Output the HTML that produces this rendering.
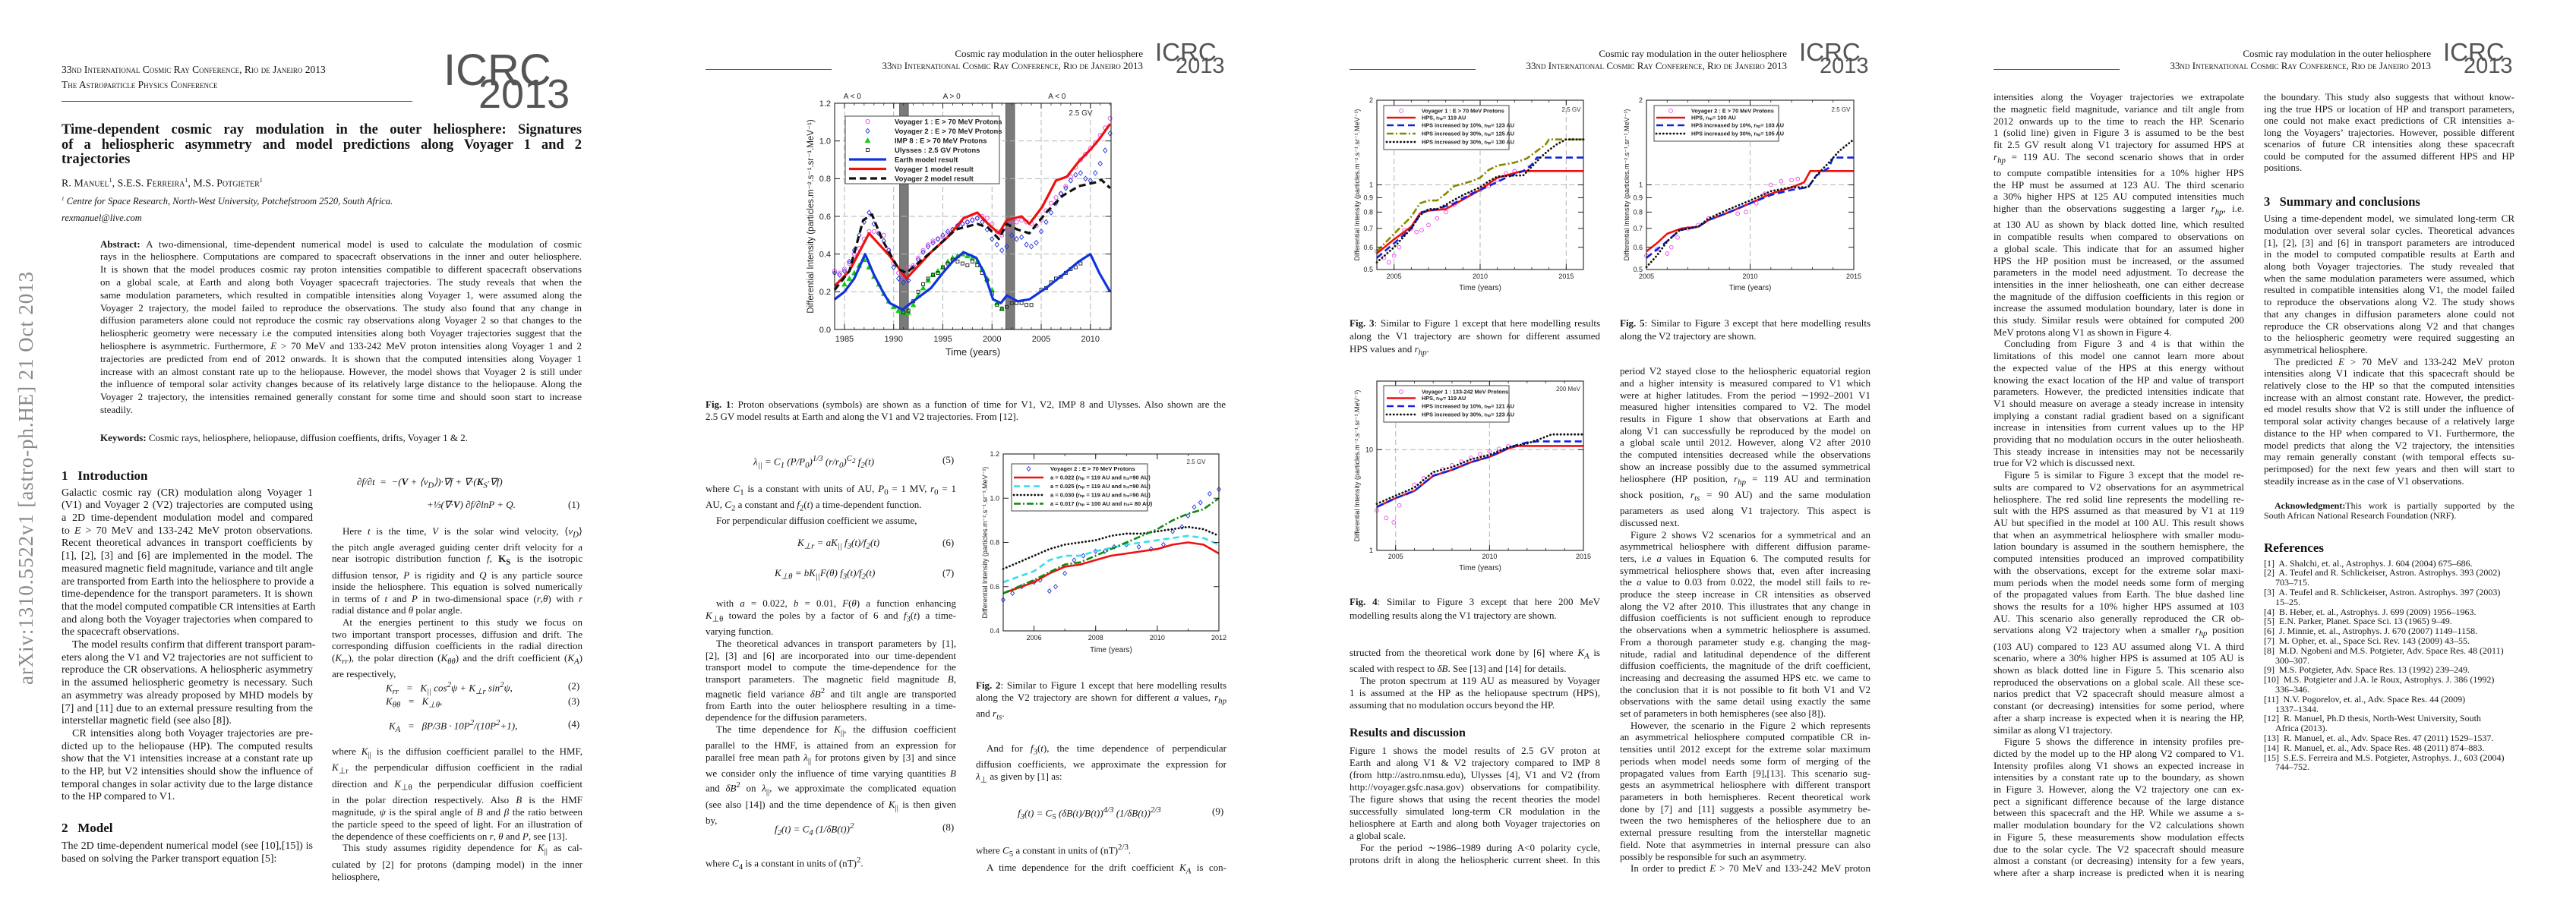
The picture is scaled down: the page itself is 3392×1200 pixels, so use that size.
<!DOCTYPE html>
<html><head><meta charset="utf-8">
<style>
body{margin:0;width:3392px;height:1200px;background:#fff;position:relative;overflow:hidden;}
.p{position:absolute;font-family:"Liberation Serif",serif;color:#151515;white-space:nowrap;}
.p span{display:block;text-align:justify;text-align-last:justify;}
.p span.e{text-align-last:left;}
.p span.i{text-indent:14px;}
.sc{font-variant:small-caps;}
.h{position:absolute;font-family:"Liberation Serif",serif;font-weight:bold;color:#111;white-space:nowrap;}
.eq{position:absolute;font-family:"Liberation Serif",serif;font-style:italic;color:#151515;white-space:nowrap;font-size:13px;}
.eqn{position:absolute;font-family:"Liberation Serif",serif;color:#151515;font-size:13px;}
.rule{position:absolute;height:1px;background:#555;}
</style></head>
<body>

<!-- ================= PAGE 1 ================= -->
<div class="p sc" style="left:81px;top:84px;font-size:13.5px;line-height:16px;">33nd International Cosmic Ray Conference, Rio de Janeiro 2013</div>
<div class="p sc" style="left:81px;top:104px;font-size:13.5px;line-height:16px;">The Astroparticle Physics Conference</div>
<div class="rule" style="left:81px;top:133px;width:462px;"></div>

<div class="p" style="left:81px;top:162px;width:685px;font-size:18.5px;line-height:19.5px;font-weight:bold;">
<span>Time-dependent cosmic ray modulation in the outer heliosphere: Signatures</span>
<span>of a heliospheric asymmetry and model predictions along Voyager 1 and 2</span>
<span class="e">trajectories</span></div>
<div class="p sc" style="left:81px;top:229px;font-size:14px;line-height:18px;">R. Manuel<sup style="font-size:8px">1</sup>, S.E.S. Ferreira<sup style="font-size:8px">1</sup>, M.S. Potgieter<sup style="font-size:8px">1</sup></div>
<div class="p" style="left:81px;top:254px;font-size:12.5px;line-height:16px;font-style:italic;"><sup style="font-size:7px">1</sup> Centre for Space Research, North-West University, Potchefstroom 2520, South Africa.</div>
<div class="p" style="left:81px;top:279px;font-size:12.5px;line-height:16px;font-style:italic;">rexmanuel@live.com</div>

<div class="p" style="left:132px;top:313.6px;width:634px;font-size:13px;line-height:16.8px;">
<span><b>Abstract:</b> A two-dimensional, time-dependent numerical model is used to calculate the modulation of cosmic</span>
<span>rays in the heliosphere. Computations are compared to spacecraft observations in the inner and outer heliosphere.</span>
<span>It is shown that the model produces cosmic ray proton intensities compatible to different spacecraft observations</span>
<span>on a global scale, at Earth and along both Voyager spacecraft trajectories. The study reveals that when the</span>
<span>same modulation parameters, which resulted in compatible intensities along Voyager 1, were assumed along the</span>
<span>Voyager 2 trajectory, the model failed to reproduce the observations. The study also found that any change in</span>
<span>diffusion parameters alone could not reproduce the cosmic ray observations along Voyager 2 so that changes to the</span>
<span>heliospheric geometry were necessary i.e the computed intensities along both Voyager trajectories suggest that the</span>
<span>heliosphere is asymmetric. Furthermore, <i>E</i> &gt; 70 MeV and 133-242 MeV proton intensities along Voyager 1 and 2</span>
<span>trajectories are predicted from end of 2012 onwards. It is shown that the computed intensities along Voyager 1</span>
<span>increase with an almost constant rate up to the heliopause. However, the model shows that Voyager 2 is still under</span>
<span>the influence of temporal solar activity changes because of its relatively large distance to the heliopause. Along the</span>
<span>Voyager 2 trajectory, the intensities remained generally constant for some time and should soon start to increase</span>
<span class="e">steadily.</span></div>
<div class="p" style="left:132px;top:568.6px;font-size:13px;line-height:16.8px;"><b>Keywords:</b> Cosmic rays, heliosphere, heliopause, diffusion coeffients, drifts, Voyager 1 &amp; 2.</div>

<div class="h" style="left:81px;top:617px;font-size:17px;line-height:20px;">1&nbsp;&nbsp;&nbsp;Introduction</div>
<div class="p" style="left:81px;top:641.6px;width:331px;font-size:14px;line-height:16.7px;">
<span>Galactic cosmic ray (CR) modulation along Voyager 1</span>
<span>(V1) and Voyager 2 (V2) trajectories are computed using</span>
<span>a 2D time-dependent modulation model and compared</span>
<span>to <i>E</i> &gt; 70 MeV and 133-242 MeV proton observations.</span>
<span>Recent theoretical advances in transport coefficients by</span>
<span>[1], [2], [3] and [6] are implemented in the model. The</span>
<span>measured magnetic field magnitude, variance and tilt angle</span>
<span>are transported from Earth into the heliosphere to provide a</span>
<span>time-dependence for the transport parameters. It is shown</span>
<span>that the model computed compatible CR intensities at Earth</span>
<span>and along both the Voyager trajectories when compared to</span>
<span class="e">the spacecraft observations.</span>
<span class="i">The model results confirm that different transport param-</span>
<span>eters along the V1 and V2 trajectories are not sufficient to</span>
<span>reproduce the CR observations. A heliospheric asymmetry</span>
<span>in the assumed heliospheric geometry is necessary. Such</span>
<span>an asymmetry was already proposed by MHD models by</span>
<span>[7] and [11] due to an external pressure resulting from the</span>
<span class="e">interstellar magnetic field (see also [8]).</span>
<span class="i">CR intensities along both Voyager trajectories are pre-</span>
<span>dicted up to the heliopause (HP). The computed results</span>
<span>show that the V1 intensities increase at a constant rate up</span>
<span>to the HP, but V2 intensities should show the influence of</span>
<span>temporal changes in solar activity due to the large distance</span>
<span class="e">to the HP compared to V1.</span></div>
<div class="h" style="left:81px;top:1081px;font-size:17px;line-height:20px;">2&nbsp;&nbsp;&nbsp;Model</div>
<div class="p" style="left:81px;top:1105.5px;width:331px;font-size:14px;line-height:17px;">
<span>The 2D time-dependent numerical model (see [10],[15]) is</span>
<span class="e">based on solving the Parker transport equation [5]:</span></div>

<div class="eq" style="left:470px;top:627px;">∂f/∂t &nbsp;= &nbsp;−(<b>V</b> + ⟨v<sub>D</sub>⟩)·∇f + ∇·(<b>K</b><sub>S</sub>·∇f)</div>
<div class="eq" style="left:562px;top:657px;">+⅓(∇·<b>V</b>) ∂f/∂lnP + Q.</div>
<div class="eqn" style="left:748px;top:657px;">(1)</div>
<div class="p" style="left:437px;top:691.7px;width:330px;font-size:13px;line-height:15.6px;">
<span class="i">Here <i>t</i> is the time, <i>V</i> is the solar wind velocity, ⟨<i>v<sub>D</sub></i>⟩</span>
<span>the pitch angle averaged guiding center drift velocity for a</span>
<span>near isotropic distribution function <i>f</i>, <b>K<sub>S</sub></b> is the isotropic</span>
<span>diffusion tensor, <i>P</i> is rigidity and <i>Q</i> is any particle source</span>
<span>inside the heliosphere. This equation is solved numerically</span>
<span>in terms of <i>t</i> and <i>P</i> in two-dimensional space (<i>r</i>,<i>θ</i>) with <i>r</i></span>
<span class="e">radial distance and <i>θ</i> polar angle.</span>
<span class="i">At the energies pertinent to this study we focus on</span>
<span>two important transport processes, diffusion and drift. The</span>
<span>corresponding diffusion coefficients in the radial direction</span>
<span>(<i>K<sub>rr</sub></i>), the polar direction (<i>K<sub>θθ</sub></i>) and the drift coefficient (<i>K<sub>A</sub></i>)</span>
<span class="e">are respectively,</span></div>
<div class="eq" style="left:508px;top:896px;">K<sub>rr</sub> &nbsp;&nbsp;= &nbsp;&nbsp;K<sub>||</sub> cos<sup>2</sup>ψ + K<sub>⊥r</sub> sin<sup>2</sup>ψ,</div>
<div class="eqn" style="left:748px;top:896px;">(2)</div>
<div class="eq" style="left:508px;top:916px;">K<sub>θθ</sub> &nbsp;&nbsp;= &nbsp;&nbsp;K<sub>⊥θ</sub>,</div>
<div class="eqn" style="left:748px;top:916px;">(3)</div>
<div class="eq" style="left:512px;top:946px;">K<sub>A</sub> &nbsp;&nbsp;= &nbsp;&nbsp;βP/3B · 10P<sup>2</sup>/(10P<sup>2</sup>+1),</div>
<div class="eqn" style="left:748px;top:946px;">(4)</div>
<div class="p" style="left:437px;top:982px;width:330px;font-size:13px;line-height:15.8px;">
<span>where <i>K</i><sub>||</sub> is the diffusion coefficient parallel to the HMF,</span>
<span><i>K</i><sub>⊥r</sub> the perpendicular diffusion coefficient in the radial</span>
<span>direction and <i>K</i><sub>⊥θ</sub> the perpendicular diffusion coefficient</span>
<span>in the polar direction respectively. Also <i>B</i> is the HMF</span>
<span>magnitude, <i>ψ</i> is the spiral angle of <i>B</i> and <i>β</i> the ratio between</span>
<span>the particle speed to the speed of light. For an illustration of</span>
<span class="e">the dependence of these coefficients on <i>r</i>, <i>θ</i> and <i>P</i>, see [13].</span>
<span class="i">This study assumes rigidity dependence for <i>K</i><sub>||</sub> as cal-</span>
<span>culated by [2] for protons (damping model) in the inner</span>
<span class="e">heliosphere,</span></div>

<!-- ================= PAGE 2 ================= -->
<div class="p" style="left:1102px;top:63px;width:403px;text-align:right;font-size:13px;line-height:16px;">Cosmic ray modulation in the outer heliosphere</div>
<div class="p sc" style="left:1102px;top:79px;width:403px;text-align:right;font-size:13px;line-height:16px;">33nd International Cosmic Ray Conference, Rio de Janeiro 2013</div>
<div class="rule" style="left:929px;top:91px;width:166px;"></div>

<div class="p" style="left:929px;top:525px;width:685px;font-size:13px;line-height:16px;">
<span><b>Fig. 1</b>: Proton observations (symbols) are shown as a function of time for V1, V2, IMP 8 and Ulysses. Also shown are the</span>
<span class="e">2.5 GV model results at Earth and along the V1 and V2 trajectories. From [12].</span></div>

<div class="eq" style="left:992px;top:598px;">λ<sub>||</sub> = C<sub>1</sub> (P/P<sub>0</sub>)<sup>1/3</sup> (r/r<sub>0</sub>)<sup>C<sub>2</sub></sup> f<sub>2</sub>(t)</div>
<div class="eqn" style="left:1241px;top:598px;">(5)</div>
<div class="p" style="left:929px;top:636.2px;width:330px;font-size:13px;line-height:15.5px;">
<span>where <i>C</i><sub>1</sub> is a constant with units of AU, <i>P</i><sub>0</sub> = 1 MV, <i>r</i><sub>0</sub> = 1</span>
<span class="e">AU, <i>C</i><sub>2</sub> a constant and <i>f</i><sub>2</sub>(<i>t</i>) a time-dependent function.</span>
<span class="i e">For perpendicular diffusion coefficient we assume,</span></div>
<div class="eq" style="left:1050px;top:707px;">K<sub>⊥r</sub> = aK<sub>||</sub> f<sub>3</sub>(t)/f<sub>2</sub>(t)</div>
<div class="eqn" style="left:1241px;top:707px;">(6)</div>
<div class="eq" style="left:1020px;top:747px;">K<sub>⊥θ</sub> = bK<sub>||</sub>F(θ) f<sub>3</sub>(t)/f<sub>2</sub>(t)</div>
<div class="eqn" style="left:1241px;top:747px;">(7)</div>
<div class="p" style="left:929px;top:787.2px;width:330px;font-size:13px;line-height:15.69px;">
<span class="i">with <i>a</i> = 0.022, <i>b</i> = 0.01, <i>F</i>(<i>θ</i>) a function enhancing</span>
<span><i>K</i><sub>⊥θ</sub> toward the poles by a factor of 6 and <i>f</i><sub>3</sub>(<i>t</i>) a time-</span>
<span class="e">varying function.</span>
<span class="i">The theoretical advances in transport parameters by [1],</span>
<span>[2], [3] and [6] are incorporated into our time-dependent</span>
<span>transport model to compute the time-dependence for the</span>
<span>transport parameters. The magnetic field magnitude <i>B</i>,</span>
<span>magnetic field variance <i>δB</i><sup>2</sup> and tilt angle are transported</span>
<span>from Earth into the outer heliosphere resulting in a time-</span>
<span class="e">dependence for the diffusion parameters.</span>
<span class="i">The time dependence for <i>K</i><sub>||</sub>, the diffusion coefficient</span>
<span>parallel to the HMF, is attained from an expression for</span>
<span>parallel free mean path <i>λ</i><sub>||</sub> for protons given by [3] and since</span>
<span>we consider only the influence of time varying quantities <i>B</i></span>
<span>and <i>δB</i><sup>2</sup> on <i>λ</i><sub>||</sub>, we approximate the complicated equation</span>
<span>(see also [14]) and the time dependence of <i>K</i><sub>||</sub> is then given</span>
<span class="e">by,</span></div>
<div class="eq" style="left:1020px;top:1082px;">f<sub>2</sub>(t) = C<sub>4</sub> (1/δB(t))<sup>2</sup></div>
<div class="eqn" style="left:1241px;top:1082px;">(8)</div>
<div class="p" style="left:929px;top:1125px;font-size:13px;line-height:16px;">where <i>C</i><sub>4</sub> is a constant in units of (nT)<sup>2</sup>.</div>

<div class="p" style="left:1285px;top:894.7px;width:330px;font-size:13px;line-height:16.5px;">
<span><b>Fig. 2</b>: Similar to Figure 1 except that here modelling results</span>
<span>along the V2 trajectory are shown for different <i>a</i> values, <i>r<sub>hp</sub></i></span>
<span class="e">and <i>r<sub>ts</sub></i>.</span></div>
<div class="p" style="left:1285px;top:978px;width:330px;font-size:13px;line-height:16.3px;">
<span class="i">And for <i>f</i><sub>3</sub>(<i>t</i>), the time dependence of perpendicular</span>
<span>diffusion coefficients, we approximate the expression for</span>
<span class="e"><i>λ</i><sub>⊥</sub> as given by [1] as:</span></div>
<div class="eq" style="left:1340px;top:1061px;">f<sub>3</sub>(t) = C<sub>5</sub> (δB(t)/B(t))<sup>4/3</sup> (1/δB(t))<sup>2/3</sup></div>
<div class="eqn" style="left:1596px;top:1061px;">(9)</div>
<div class="p" style="left:1285px;top:1108px;width:330px;font-size:13px;line-height:17px;">
<span class="e">where <i>C</i><sub>5</sub> a constant in units of (nT)<sup>2/3</sup>.</span>
<span class="i">A time dependence for the drift coefficient <i>K<sub>A</sub></i> is con-</span></div>

<!-- ================= PAGE 3 ================= -->
<div class="p" style="left:1950px;top:63px;width:403px;text-align:right;font-size:13px;line-height:16px;">Cosmic ray modulation in the outer heliosphere</div>
<div class="p sc" style="left:1950px;top:79px;width:403px;text-align:right;font-size:13px;line-height:16px;">33nd International Cosmic Ray Conference, Rio de Janeiro 2013</div>
<div class="rule" style="left:1777px;top:91px;width:166px;"></div>

<div class="p" style="left:1777px;top:416.5px;width:330px;font-size:13px;line-height:17px;">
<span><b>Fig. 3</b>: Similar to Figure 1 except that here modelling results</span>
<span>along the V1 trajectory are shown for different assumed</span>
<span class="e">HPS values and <i>r<sub>hp</sub></i>.</span></div>
<div class="p" style="left:2133px;top:416.5px;width:330px;font-size:13px;line-height:17px;">
<span><b>Fig. 5</b>: Similar to Figure 3 except that here modelling results</span>
<span class="e">along the V2 trajectory are shown.</span></div>
<div class="p" style="left:1777px;top:784px;width:330px;font-size:13px;line-height:18px;">
<span><b>Fig. 4</b>: Similar to Figure 3 except that here 200 MeV</span>
<span class="e">modelling results along the V1 trajectory are shown.</span></div>
<div class="p" style="left:1777px;top:852px;width:330px;font-size:13px;line-height:15.75px;">
<span>structed from the theoretical work done by [6] where <i>K<sub>A</sub></i> is</span>
<span class="e">scaled with respect to <i>δB</i>. See [13] and [14] for details.</span>
<span class="i">The proton spectrum at 119 AU as measured by Voyager</span>
<span>1 is assumed at the HP as the heliopause spectrum (HPS),</span>
<span class="e">assuming that no modulation occurs beyond the HP.</span></div>
<div class="h" style="left:1777px;top:956px;font-size:16px;line-height:20px;">Results and discussion</div>
<div class="p" style="left:1777px;top:981px;width:330px;font-size:13px;line-height:16px;">
<span>Figure 1 shows the model results of 2.5 GV proton at</span>
<span>Earth and along V1 &amp; V2 trajectory compared to IMP 8</span>
<span>(from http://astro.nmsu.edu), Ulysses [4], V1 and V2 (from</span>
<span>http://voyager.gsfc.nasa.gov) observations for compatibility.</span>
<span>The figure shows that using the recent theories the model</span>
<span>successfully simulated long-term CR modulation in the</span>
<span>heliosphere at Earth and along both Voyager trajectories on</span>
<span class="e">a global scale.</span>
<span class="i">For the period ∼1986–1989 during A&lt;0 polarity cycle,</span>
<span>protons drift in along the heliospheric current sheet. In this</span></div>

<div class="p" style="left:2133px;top:481.2px;width:330px;font-size:13px;line-height:15.7px;">
<span>period V2 stayed close to the heliospheric equatorial region</span>
<span>and a higher intensity is measured compared to V1 which</span>
<span>were at higher latitudes. From the period ∼1992–2001 V1</span>
<span>measured higher intensities compared to V2. The model</span>
<span>results in Figure 1 show that observations at Earth and</span>
<span>along V1 can successfully be reproduced by the model on</span>
<span>a global scale until 2012. However, along V2 after 2010</span>
<span>the computed intensities decreased while the observations</span>
<span>show an increase possibly due to the assumed symmetrical</span>
<span>heliosphere (HP position, <i>r<sub>hp</sub></i> = 119 AU and termination</span>
<span>shock position, <i>r<sub>ts</sub></i> = 90 AU) and the same modulation</span>
<span>parameters as used along V1 trajectory. This aspect is</span>
<span class="e">discussed next.</span>
<span class="i">Figure 2 shows V2 scenarios for a symmetrical and an</span>
<span>asymmetrical heliosphere with different diffusion parame-</span>
<span>ters, i.e <i>a</i> values in Equation 6. The computed results for</span>
<span>symmetrical heliosphere shows that, even after increasing</span>
<span>the <i>a</i> value to 0.03 from 0.022, the model still fails to re-</span>
<span>produce the steep increase in CR intensities as observed</span>
<span>along the V2 after 2010. This illustrates that any change in</span>
<span>diffusion coefficients is not sufficient enough to reproduce</span>
<span>the observations when a symmetric heliosphere is assumed.</span>
<span>From a thorough parameter study e.g. changing the mag-</span>
<span>nitude, radial and latitudinal dependence of the different</span>
<span>diffusion coefficients, the magnitude of the drift coefficient,</span>
<span>increasing and decreasing the assumed HPS etc. we came to</span>
<span>the conclusion that it is not possible to fit both V1 and V2</span>
<span>observations with the same detail using exactly the same</span>
<span class="e">set of parameters in both hemispheres (see also [8]).</span>
<span class="i">However, the scenario in the Figure 2 which represents</span>
<span>an asymmetrical heliosphere computed compatible CR in-</span>
<span>tensities until 2012 except for the extreme solar maximum</span>
<span>periods when model needs some form of merging of the</span>
<span>propagated values from Earth [9],[13]. This scenario sug-</span>
<span>gests an asymmetrical heliosphere with different transport</span>
<span>parameters in both hemispheres. Recent theoretical work</span>
<span>done by [7] and [11] suggests a possible asymmetry be-</span>
<span>tween the two hemispheres of the heliosphere due to an</span>
<span>external pressure resulting from the interstellar magnetic</span>
<span>field. Note that asymmetries in internal pressure can also</span>
<span class="e">possibly be responsible for such an asymmetry.</span>
<span class="i">In order to predict <i>E</i> &gt; 70 MeV and 133-242 MeV proton</span></div>

<!-- ================= PAGE 4 ================= -->
<div class="p" style="left:2798px;top:63px;width:403px;text-align:right;font-size:13px;line-height:16px;">Cosmic ray modulation in the outer heliosphere</div>
<div class="p sc" style="left:2798px;top:79px;width:403px;text-align:right;font-size:13px;line-height:16px;">33nd International Cosmic Ray Conference, Rio de Janeiro 2013</div>
<div class="rule" style="left:2625px;top:91px;width:166px;"></div>

<div class="p" style="left:2625px;top:120.2px;width:330px;font-size:13px;line-height:15.7px;">
<span>intensities along the Voyager trajectories we extrapolate</span>
<span>the magnetic field magnitude, variance and tilt angle from</span>
<span>2012 onwards up to the time to reach the HP. Scenario</span>
<span>1 (solid line) given in Figure 3 is assumed to be the best</span>
<span>fit 2.5 GV result along V1 trajectory for assumed HPS at</span>
<span><i>r<sub>hp</sub></i> = 119 AU. The second scenario shows that in order</span>
<span>to compute compatible intensities for a 10% higher HPS</span>
<span>the HP must be assumed at 123 AU. The third scenario</span>
<span>a 30% higher HPS at 125 AU computed intensities much</span>
<span>higher than the observations suggesting a larger <i>r<sub>hp</sub></i>, i.e.</span>
<span>at 130 AU as shown by black dotted line, which resulted</span>
<span>in compatible results when compared to observations on</span>
<span>a global scale. This indicate that for an assumed higher</span>
<span>HPS the HP position must be increased, or the assumed</span>
<span>parameters in the model need adjustment. To decrease the</span>
<span>intensities in the inner heliosheath, one can either decrease</span>
<span>the magnitude of the diffusion coefficients in this region or</span>
<span>increase the assumed modulation boundary, later is done in</span>
<span>this study. Similar resuls were obtained for computed 200</span>
<span class="e">MeV protons along V1 as shown in Figure 4.</span>
<span class="i">Concluding from Figure 3 and 4 is that within the</span>
<span>limitations of this model one cannot learn more about</span>
<span>the expected value of the HPS at this energy without</span>
<span>knowing the exact location of the HP and value of transport</span>
<span>parameters. However, the predicted intensities indicate that</span>
<span>V1 should measure on average a steady increase in intensity</span>
<span>implying a constant radial gradient based on a significant</span>
<span>increase in intensities from current values up to the HP</span>
<span>providing that no modulation occurs in the outer heliosheath.</span>
<span>This steady increase in intensities may not be necessarily</span>
<span class="e">true for V2 which is discussed next.</span>
<span class="i">Figure 5 is similar to Figure 3 except that the model re-</span>
<span>sults are compared to V2 observations for an asymmetrical</span>
<span>heliosphere. The red solid line represents the modelling re-</span>
<span>sult with the HPS assumed as that measured by V1 at 119</span>
<span>AU but specified in the model at 100 AU. This result shows</span>
<span>that when an asymmetrical heliosphere with smaller modu-</span>
<span>lation boundary is assumed in the southern hemisphere, the</span>
<span>computed intensities produced an improved compatibility</span>
<span>with the observations, except for the extreme solar maxi-</span>
<span>mum periods when the model needs some form of merging</span>
<span>of the propagated values from Earth. The blue dashed line</span>
<span>shows the results for a 10% higher HPS assumed at 103</span>
<span>AU. This scenario also generally reproduced the CR ob-</span>
<span>servations along V2 trajectory when a smaller <i>r<sub>hp</sub></i> position</span>
<span>(103 AU) compared to 123 AU assumed along V1. A third</span>
<span>scenario, where a 30% higher HPS is assumed at 105 AU is</span>
<span>shown as black dotted line in Figure 5. This scenario also</span>
<span>reproduced the observations on a global scale. All these sce-</span>
<span>narios predict that V2 spacecraft should measure almost a</span>
<span>constant (or decreasing) intensities for some period, where</span>
<span>after a sharp increase is expected when it is nearing the HP,</span>
<span class="e">similar as along V1 trajectory.</span>
<span class="i">Figure 5 shows the difference in intensity profiles pre-</span>
<span>dicted by the model up to the HP along V2 compared to V1.</span>
<span>Intensity profiles along V1 shows an expected increase in</span>
<span>intensities by a constant rate up to the boundary, as shown</span>
<span>in Figure 3. However, along the V2 trajectory one can ex-</span>
<span>pect a significant difference because of the large distance</span>
<span>between this spacecraft and the HP. While we assume a s-</span>
<span>maller modulation boundary for the V2 calculations shown</span>
<span>in Figure 5, these measurements show modulation effects</span>
<span>due to the solar cycle. The V2 spacecraft should measure</span>
<span>almost a constant (or decreasing) intensity for a few years,</span>
<span>where after a sharp increase is predicted when it is nearing</span></div>

<div class="p" style="left:2981px;top:120.2px;width:330px;font-size:13px;line-height:15.5px;">
<span>the boundary. This study also suggests that without know-</span>
<span>ing the true HPS or location of HP and transport parameters,</span>
<span>one could not make exact predictions of CR intensities a-</span>
<span>long the Voyagers’ trajectories. However, possible different</span>
<span>scenarios of future CR intensities along these spacecraft</span>
<span>could be computed for the assumed different HPS and HP</span>
<span class="e">positions.</span></div>
<div class="h" style="left:2981px;top:256px;font-size:16.5px;line-height:20px;">3&nbsp;&nbsp;&nbsp;Summary and conclusions</div>
<div class="p" style="left:2981px;top:280.2px;width:330px;font-size:13px;line-height:15.7px;">
<span>Using a time-dependent model, we simulated long-term CR</span>
<span>modulation over several solar cycles. Theoretical advances</span>
<span>[1], [2], [3] and [6] in transport parameters are introduced</span>
<span>in the model to computed compatible results at Earth and</span>
<span>along both Voyager trajectories. The study revealed that</span>
<span>when the same modulation parameters were assumed, which</span>
<span>resulted in compatible intensities along V1, the model failed</span>
<span>to reproduce the observations along V2. The study shows</span>
<span>that any changes in diffusion parameters alone could not</span>
<span>reproduce the CR observations along V2 and that changes</span>
<span>to the heliospheric geometry were required suggesting an</span>
<span class="e">asymmetrical heliosphere.</span>
<span class="i">The predicted <i>E</i> &gt; 70 MeV and 133-242 MeV proton</span>
<span>intensities along V1 indicate that this spacecraft should be</span>
<span>relatively close to the HP so that the computed intensities</span>
<span>increase with an almost constant rate. However, the predict-</span>
<span>ed model results show that V2 is still under the influence of</span>
<span>temporal solar activity changes because of a relatively large</span>
<span>distance to the HP when compared to V1. Furthermore, the</span>
<span>model predicts that along the V2 trajectory, the intensities</span>
<span>may remain generally constant (with temporal effects su-</span>
<span>perimposed) for the next few years and then will start to</span>
<span class="e">steadily increase as in the case of V1 observations.</span></div>
<div class="p" style="left:2981px;top:659.5px;width:330px;font-size:12px;line-height:13px;">
<span class="i"><b>Acknowledgment:</b>This work is partially supported by the</span>
<span class="e">South African National Research Foundation (NRF).</span></div>
<div class="h" style="left:2981px;top:712px;font-size:17px;line-height:20px;">References</div>
<div class="p" style="left:2981px;top:735.6px;font-size:12px;line-height:12.8px;">
[1]&nbsp; A. Shalchi, et. al., Astrophys. J. 604 (2004) 675–686.<br>
[2]&nbsp; A. Teufel and R. Schlickeiser, Astron. Astrophys. 393 (2002)<br>
&nbsp;&nbsp;&nbsp;&nbsp;&nbsp;703–715.<br>
[3]&nbsp; A. Teufel and R. Schlickeiser, Astron. Astrophys. 397 (2003)<br>
&nbsp;&nbsp;&nbsp;&nbsp;&nbsp;15–25.<br>
[4]&nbsp; B. Heber, et. al., Astrophys. J. 699 (2009) 1956–1963.<br>
[5]&nbsp; E.N. Parker, Planet. Space Sci. 13 (1965) 9–49.<br>
[6]&nbsp; J. Minnie, et. al., Astrophys. J. 670 (2007) 1149–1158.<br>
[7]&nbsp; M. Opher, et. al., Space Sci. Rev. 143 (2009) 43–55.<br>
[8]&nbsp; M.D. Ngobeni and M.S. Potgieter, Adv. Space Res. 48 (2011)<br>
&nbsp;&nbsp;&nbsp;&nbsp;&nbsp;300–307.<br>
[9]&nbsp; M.S. Potgieter, Adv. Space Res. 13 (1992) 239–249.<br>
[10]&nbsp; M.S. Potgieter and J.A. le Roux, Astrophys. J. 386 (1992)<br>
&nbsp;&nbsp;&nbsp;&nbsp;&nbsp;336–346.<br>
[11]&nbsp; N.V. Pogorelov, et. al., Adv. Space Res. 44 (2009)<br>
&nbsp;&nbsp;&nbsp;&nbsp;&nbsp;1337–1344.<br>
[12]&nbsp; R. Manuel, Ph.D thesis, North-West University, South<br>
&nbsp;&nbsp;&nbsp;&nbsp;&nbsp;Africa (2013).<br>
[13]&nbsp; R. Manuel, et. al., Adv. Space Res. 47 (2011) 1529–1537.<br>
[14]&nbsp; R. Manuel, et. al., Adv. Space Res. 48 (2011) 874–883.<br>
[15]&nbsp; S.E.S. Ferreira and M.S. Potgieter, Astrophys. J., 603 (2004)<br>
&nbsp;&nbsp;&nbsp;&nbsp;&nbsp;744–752.</div>

<svg id="art" width="3392" height="1200" style="position:absolute;left:0;top:0;" xmlns="http://www.w3.org/2000/svg">
  <text x="0" y="0" transform="translate(43,902) rotate(-90)" font-family="Liberation Serif" font-size="27" fill="#8a8a8a" textLength="544">arXiv:1310.5522v1  [astro-ph.HE]  21 Oct 2013</text>
  <g font-family="Liberation Sans" fill="#555">
    <text x="584" y="112" font-size="58">ICRC</text>
    <text x="630" y="142" font-size="54">2013</text>
  </g>
  <g font-family="Liberation Sans" fill="#555">
    <text x="1521" y="80" font-size="33">ICRC</text><text x="1548" y="96" font-size="29">2013</text>
  </g>
  <g font-family="Liberation Sans" fill="#555">
    <text x="2369" y="80" font-size="33">ICRC</text><text x="2396" y="96" font-size="29">2013</text>
  </g>
  <g font-family="Liberation Sans" fill="#555">
    <text x="3217" y="80" font-size="33">ICRC</text><text x="3244" y="96" font-size="29">2013</text>
  </g>
</svg>

<script>
// ---------------- Figure 1 data ----------------
const fig1XTicks = [1985, 1990, 1995, 2000, 2005, 2010];
const fig1XTickLabels = ["1985", "1990", "1995", "2000", "2005", "2010"];
const fig1YTicks = [0, 0.2, 0.4, 0.6, 0.8, 1.0, 1.2];
const fig1YTickLabels = ["0.0", "0.2", "0.4", "0.6", "0.8", "1.0", "1.2"];
const fig1GridY = [0.2, 0.4, 0.6, 0.8, 1.0];
const fig1BandStart = [1990.6, 2001.4];
const fig1BandEnd = [1991.5, 2002.3];
const fig1EarthYears = [1984, 1985, 1986, 1987.1, 1988, 1989, 1989.6, 1990.9, 1992, 1993.8, 1995, 1996, 1997.1, 1998.4, 1999.2, 2000.1, 2000.9, 2001.5, 2002.6, 2003.8, 2005.5, 2007.2, 2008.8, 2010, 2010.9, 2012];
const fig1EarthValues = [0.16, 0.2, 0.27, 0.40, 0.29, 0.19, 0.14, 0.105, 0.15, 0.22, 0.30, 0.36, 0.41, 0.38, 0.30, 0.16, 0.14, 0.18, 0.15, 0.16, 0.22, 0.29, 0.36, 0.40, 0.30, 0.20];
const fig1V1ModelYears = [1984, 1985.5, 1987.5, 1989.6, 1991.3, 1993.8, 1995.5, 1997.1, 1998.5, 1999.6, 2000.7, 2001.5, 2003, 2003.8, 2005.1, 2006.5, 2007.6, 2008.8, 2010.1, 2010.9, 2012];
const fig1V1ModelValues = [0.23, 0.31, 0.51, 0.39, 0.27, 0.41, 0.49, 0.59, 0.62, 0.56, 0.51, 0.58, 0.60, 0.56, 0.65, 0.79, 0.81, 0.89, 0.96, 1.01, 1.09];
const fig1V2ModelYears = [1984, 1985.5, 1986.9, 1987.8, 1988.8, 1990.5, 1991.3, 1993.8, 1996.3, 1998.5, 1999.6, 2000.7, 2001.5, 2002.6, 2003.8, 2005.5, 2007.2, 2008.8, 2010.5, 2011.1, 2012];
const fig1V2ModelValues = [0.21, 0.31, 0.58, 0.61, 0.48, 0.32, 0.30, 0.41, 0.53, 0.56, 0.54, 0.48, 0.56, 0.53, 0.51, 0.62, 0.71, 0.76, 0.78, 0.795, 0.75];
const fig1ObsYears = [1984.0,1984.5,1985.0,1985.5,1986.0,1986.5,1987.0,1987.5,1988.0,1988.5,1989.0,1989.5,1990.0,1990.5,1991.0,1991.5,1992.0,1992.5,1993.0,1993.5,1994.0,1994.5,1995.0,1995.5,1996.0,1996.5,1997.0,1997.5,1998.0,1998.5,1999.0,1999.5,2000.0,2000.5,2001.0,2001.5,2002.0,2002.5,2003.0,2003.5,2004.0,2004.5,2005.0,2005.5,2006.0,2006.5,2007.0,2007.5,2008.0,2008.5,2009.0,2009.5,2010.0,2010.5,2011.0,2011.5,2012.0];
const fig1V1ObsValues = [0.31,0.30,0.32,0.35,0.40,0.43,0.48,0.52,0.52,0.51,0.50,0.42,0.35,0.30,0.28,0.33,0.34,0.38,0.42,0.45,0.47,0.48,0.49,0.51,0.53,0.55,0.56,0.57,0.58,0.59,0.60,0.59,0.56,0.52,0.50,0.53,0.56,0.57,0.58,0.57,0.56,0.55,0.58,0.63,0.67,0.70,0.72,0.76,0.81,0.86,0.90,0.93,0.96,0.99,1.03,1.07,1.12];
const fig1V2ObsValues = [0.30,0.29,0.31,0.36,0.42,0.50,0.57,0.62,0.56,0.51,0.47,0.42,0.33,0.27,0.25,0.26,0.33,0.37,0.41,0.44,0.46,0.48,0.50,0.52,0.53,0.55,0.56,0.57,0.58,0.59,0.57,0.53,0.48,0.45,0.42,0.44,0.50,0.48,0.49,0.45,0.44,0.46,0.52,0.57,0.62,0.67,0.72,0.75,0.79,0.82,0.83,0.80,0.79,0.83,0.88,0.95,1.04];
const fig1ImpYears = [1985.0,1985.5,1986.0,1986.5,1987.0,1987.5,1988.0,1988.5,1989.0,1989.5,1990.0,1990.5,1991.0,1991.5,1992.0,1992.5,1993.0,1993.5,1994.0,1994.5,1995.0,1995.5,1996.0,1996.5,1997.0,1997.5,1998.0,1998.5,1999.0,1999.5,2000.0,2000.5,2001.0];
const fig1ImpValues = [0.24,0.27,0.30,0.34,0.37,0.33,0.28,0.24,0.19,0.15,0.12,0.10,0.09,0.09,0.13,0.18,0.22,0.26,0.29,0.31,0.33,0.36,0.38,0.39,0.40,0.39,0.38,0.36,0.32,0.27,0.21,0.14,0.11];
const fig1UlyssesYears = [1991.0,1991.5,1992.0,1992.5,1993.0,1993.5,1994.0,1994.5,1995.0,1995.5,1996.0,1996.5,1997.0,1997.5,1998.0,1998.5,1999.0,1999.5,2000.0,2000.5,2001.0,2001.5,2002.0,2002.5,2003.0,2003.5,2004.0,2005.0,2005.5,2006.0,2006.5,2007.0,2007.5,2008.0,2008.5,2009.0];
const fig1UlyssesValues = [0.09,0.10,0.15,0.20,0.24,0.27,0.29,0.30,0.33,0.35,0.37,0.36,0.35,0.34,0.36,0.34,0.30,0.26,0.19,0.13,0.11,0.12,0.14,0.14,0.14,0.13,0.13,0.21,0.22,0.25,0.27,0.28,0.30,0.32,0.33,0.35];
const fig1LegendLabels = ["Voyager 1 : E > 70 MeV Protons", "Voyager 2 : E > 70 MeV Protons", "IMP 8 : E > 70 MeV Protons", "Ulysses : 2.5 GV Protons", "Earth model result", "Voyager 1 model result", "Voyager 2 model result"];
const fig1PolarityLabels = ["A < 0", "A > 0", "A < 0"];
const fig1PolarityYears = [1985.8, 1995.9, 2006.6];

// ---------------- Figure 2 data ----------------
const fig2XTicks = [2006, 2008, 2010, 2012];
const fig2XTickLabels = ["2006", "2008", "2010", "2012"];
const fig2YTicks = [0.4, 0.6, 0.8, 1.0, 1.2];
const fig2YTickLabels = ["0.4", "0.6", "0.8", "1.0", "1.2"];
const fig2ObsYears = [2005.0,2005.3,2005.6,2006.0,2006.2,2006.5,2006.7,2007.0,2007.3,2007.6,2008.0,2008.3,2008.6,2009.0,2009.4,2009.8,2010.2,2010.5,2010.8,2011.0,2011.2,2011.4,2011.7,2012.0];
const fig2ObsValues = [0.54,0.57,0.60,0.62,0.63,0.58,0.60,0.66,0.72,0.74,0.76,0.76,0.78,0.79,0.78,0.77,0.79,0.85,0.87,0.92,0.96,0.98,1.02,1.04];
const fig2A022Years = [2005,2006,2006.5,2007,2007.5,2008,2008.5,2009,2009.5,2010,2010.5,2011,2011.5,2012];
const fig2A022Values = [0.57,0.62,0.66,0.69,0.70,0.72,0.74,0.75,0.76,0.77,0.79,0.80,0.79,0.75];
const fig2A025Years = [2005,2006,2006.5,2007,2007.5,2008,2009,2009.5,2010,2010.5,2011,2011.5,2012];
const fig2A025Values = [0.62,0.67,0.72,0.74,0.74,0.76,0.79,0.80,0.81,0.82,0.83,0.82,0.79];
const fig2A030Years = [2005,2005.5,2006,2006.5,2007,2007.5,2008,2008.5,2009,2009.5,2010,2010.5,2011,2011.5,2012];
const fig2A030Values = [0.68,0.71,0.74,0.77,0.79,0.80,0.81,0.83,0.84,0.84,0.85,0.86,0.87,0.86,0.83];
const fig2A017Years = [2005,2006,2007,2007.5,2008,2008.5,2009,2009.5,2010,2010.5,2011,2011.5,2012];
const fig2A017Values = [0.57,0.63,0.70,0.71,0.74,0.77,0.80,0.83,0.86,0.90,0.93,0.95,1.00];
const fig2LegendLabels = ["Voyager 2 : E > 70 MeV Protons", "a = 0.022 (r\u2095\u209a = 119 AU and r\u209c\u209b=90 AU)", "a = 0.025 (r\u2095\u209a = 119 AU and r\u209c\u209b=90 AU)", "a = 0.030 (r\u2095\u209a = 119 AU and r\u209c\u209b=90 AU)", "a = 0.017 (r\u2095\u209a = 100 AU and r\u209c\u209b= 80 AU)"];

// ---------------- Figure 3 data ----------------
const fig3XTicks = [2005, 2010, 2015];
const fig3XTickLabels = ["2005", "2010", "2015"];
const fig3YTicks = [0.5, 0.6, 0.7, 0.8, 0.9, 1, 2];
const fig3YTickLabels = ["0.5", "0.6", "0.7", "0.8", "0.9", "1", "2"];
const fig3GridY = [1];
const fig3ObsYears = [2004.0,2004.4,2004.7,2005.0,2005.3,2005.6,2006.0,2006.3,2006.6,2007.0,2007.5,2008.0,2008.5,2009.0,2009.5,2010.0,2010.5,2011.0,2011.5,2012.0];
const fig3ObsValues = [0.58,0.55,0.53,0.56,0.60,0.69,0.70,0.68,0.69,0.72,0.76,0.80,0.85,0.90,0.93,0.96,0.99,1.04,1.10,1.12];
const fig3Hps119Years = [2004,2005,2006,2006.5,2007,2008,2008.9,2010,2011,2012.2,2012.5,2016];
const fig3Hps119Values = [0.57,0.64,0.71,0.79,0.81,0.82,0.88,0.96,1.06,1.11,1.12,1.12];
const fig3Hps123Years = [2004,2005,2006,2006.6,2007.5,2008.5,2009.5,2010.5,2011.5,2012.5,2013,2013.3,2016];
const fig3Hps123Values = [0.55,0.62,0.70,0.80,0.82,0.86,0.93,0.99,1.06,1.12,1.18,1.25,1.25];
const fig3Hps125Years = [2004,2005,2006,2006.5,2007,2007.5,2008,2008.5,2009.5,2010,2010.5,2011,2012,2012.7,2013.3,2013.8,2014,2016];
const fig3Hps125Values = [0.58,0.67,0.77,0.86,0.88,0.88,0.93,0.99,1.03,1.06,1.13,1.17,1.20,1.24,1.32,1.39,1.45,1.45];
const fig3Hps130Years = [2004,2005,2006,2006.5,2007,2007.5,2008,2009,2010,2010.5,2011,2012,2012.5,2013,2013.5,2014,2014.5,2015,2016];
const fig3Hps130Values = [0.53,0.60,0.70,0.78,0.82,0.82,0.85,0.92,0.98,1.03,1.07,1.08,1.08,1.16,1.25,1.33,1.40,1.45,1.45];
const fig3LegendLabels = ["Voyager 1 : E > 70 MeV Protons", "HPS, r\u2095\u209a= 119 AU", "HPS increased by 10%, r\u2095\u209a= 123 AU", "HPS increased by 30%, r\u2095\u209a= 125 AU", "HPS increased by 30%, r\u2095\u209a= 130 AU"];

// ---------------- Figure 5 data ----------------
const fig5XTicks = [2005, 2010, 2015];
const fig5XTickLabels = ["2005", "2010", "2015"];
const fig5ObsYears = [2005.0,2005.5,2006.0,2006.2,2006.5,2007.0,2007.5,2008.0,2008.5,2009.0,2009.4,2009.8,2010.3,2010.7,2011.0,2011.5,2012.0,2012.3];
const fig5ObsValues = [0.56,0.59,0.57,0.60,0.65,0.70,0.72,0.76,0.78,0.81,0.79,0.80,0.86,0.93,1.00,1.03,1.04,1.05];
const fig5Hps100Years = [2005,2005.5,2006,2006.7,2007.5,2008,2009,2010,2011,2012,2012.6,2012.9,2015];
const fig5Hps100Values = [0.58,0.62,0.67,0.70,0.71,0.75,0.80,0.86,0.93,0.98,1.02,1.12,1.12];
const fig5Hps103Years = [2005,2006,2006.6,2007.5,2008,2009,2010,2011,2012,2012.8,2013.2,2013.8,2014,2015];
const fig5Hps103Values = [0.55,0.63,0.69,0.71,0.75,0.80,0.86,0.92,0.96,0.98,1.08,1.15,1.25,1.25];
const fig5Hps105Years = [2005,2005.5,2006,2006.6,2007.5,2008,2009,2010,2011,2012,2012.8,2013.2,2013.8,2014.3,2015];
const fig5Hps105Values = [0.51,0.56,0.63,0.69,0.71,0.76,0.82,0.88,0.95,0.98,0.98,1.08,1.20,1.32,1.45];
const fig5LegendLabels = ["Voyager 2 : E > 70 MeV Protons", "HPS, r\u2095\u209a= 100 AU", "HPS increased by 10%, r\u2095\u209a= 103 AU", "HPS increased by 30%, r\u2095\u209a= 105 AU"];

// ---------------- Figure 4 data ----------------
const fig4XTicks = [2005, 2010, 2015];
const fig4XTickLabels = ["2005", "2010", "2015"];
const fig4YTicks = [1, 10];
const fig4YTickLabels = ["1", "10"];
const fig4GridY = [10];
const fig4ObsYears = [2004.0,2004.5,2004.9,2005.2,2005.6,2006.0,2006.5,2007.0,2007.5,2008.0,2008.5,2009.0,2009.5,2010.0,2010.5,2011.0];
const fig4ObsValues = [2.5,2.1,1.9,2.8,3.7,4.5,5.2,5.8,6.4,7.0,7.6,8.3,9.0,9.6,10.2,10.8];
const fig4Hps119Years = [2004,2005,2006,2007,2008,2009,2010,2010.5,2011,2011.5,2015];
const fig4Hps119Values = [2.7,3.3,3.9,5.5,6.3,7.5,8.5,9.3,10.3,10.9,10.9];
const fig4Hps121Years = [2004,2005,2006,2007,2008,2009,2010,2011,2011.5,2012,2012.5,2015];
const fig4Hps121Values = [2.7,3.3,3.9,5.5,6.3,7.5,8.5,10.4,11.2,11.8,12.1,12.1];
const fig4Hps123Years = [2004,2005,2006,2007,2008,2009,2010,2011,2012,2012.8,2013.3,2015];
const fig4Hps123Values = [2.9,3.5,4.2,6.0,6.7,8.0,8.9,10.6,11.5,13.0,14.2,14.2];
const fig4LegendLabels = ["Voyager 1 : 133-242 MeV Protons", "HPS, r\u2095\u209a= 119 AU", "HPS increased by 10%, r\u2095\u209a= 121 AU", "HPS increased by 30%, r\u2095\u209a= 123 AU"];

const YLABEL = "Differential Intensity (particles.m\u207B\u00B2.s\u207B\u00B9.sr\u207B\u00B9.MeV\u207B\u00B9)";

const NS = "http://www.w3.org/2000/svg";
const svg = document.getElementById("art");
function mk(tag, attrs, parent) {
  const e = document.createElementNS(NS, tag);
  for (const k in attrs) e.setAttribute(k, attrs[k]);
  (parent || svg).appendChild(e);
  return e;
}
function makeScales(c) {
  const [x0, y0, x1, y1] = c.box;
  c.sx = v => x0 + (v - c.x[0]) / (c.x[1] - c.x[0]) * (x1 - x0);
  if (c.log) {
    const l0 = Math.log10(c.y[0]), l1 = Math.log10(c.y[1]);
    c.sy = v => y1 - (Math.log10(v) - l0) / (l1 - l0) * (y1 - y0);
  } else {
    c.sy = v => y1 - (v - c.y[0]) / (c.y[1] - c.y[0]) * (y1 - y0);
  }
}
function markerShape(g, kind, x, y, color, size) {
  let m;
  if (kind === "circle") m = mk("circle", {cx: x, cy: y, r: size, fill: "none", stroke: color, "stroke-width": 0.9}, g);
  else if (kind === "diamond") m = mk("path", {d: `M${x},${y - size - 0.5}L${x + size},${y}L${x},${y + size + 0.5}L${x - size},${y}Z`, fill: "none", stroke: color, "stroke-width": 0.9}, g);
  else if (kind === "triangle") m = mk("path", {d: `M${x},${y - size}L${x + size},${y + size * 0.8}L${x - size},${y + size * 0.8}Z`, fill: color, stroke: color, "stroke-width": 0.8}, g);
  else m = mk("rect", {x: x - size, y: y - size, width: size * 2, height: size * 2, fill: "none", stroke: color, "stroke-width": 0.9}, g);
  return m;
}
function lineAttrs(s) {
  const a = {fill: "none", stroke: s.color, "stroke-width": s.width, "stroke-linejoin": "round"};
  if (s.dash) a["stroke-dasharray"] = s.dash;
  a["stroke-linecap"] = s.cap || "butt";
  return a;
}

function drawChart(c) {
  makeScales(c);
  const [x0, y0, x1, y1] = c.box;
  const g = mk("g", {});
  
  
  (c.bandStart || []).forEach((b, i) => {
    const r = mk("rect", {x: c.sx(b), y: y0, width: c.sx(c.bandEnd[i]) - c.sx(b), height: y1 - y0, fill: "#7a7a7a", stroke: "#333", "stroke-width": 0.6}, g);
    
    
  });
  (c.gridX || []).forEach(v => {
    const l = mk("line", {x1: c.sx(v), x2: c.sx(v), y1: y0, y2: y1, stroke: "#b5b5b5", "stroke-width": 1, "stroke-dasharray": "7,4"}, g);
    
    
  });
  (c.gridY || []).forEach(v => {
    const l = mk("line", {x1: x0, x2: x1, y1: c.sy(v), y2: c.sy(v), stroke: "#b5b5b5", "stroke-width": 1, "stroke-dasharray": "7,4"}, g);
    
    
  });
  c.series.forEach(s => {
    if (s.marker) {
      const sg = mk("g", {}, g);
      
      
      s.xs.forEach((xv, i) => {
        const m = markerShape(sg, s.marker, c.sx(xv), c.sy(s.ys[i]), s.color, s.size);
        
        
      });
    } else {
      const pts = s.xs.map((xv, i) => c.sx(xv).toFixed(1) + "," + c.sy(s.ys[i]).toFixed(1)).join(" ");
      const pl = mk("polyline", Object.assign({points: pts}, lineAttrs(s)), g);
      
      
    }
  });
  const fr = mk("rect", {x: x0, y: y0, width: x1 - x0, height: y1 - y0, fill: "none", stroke: "#222", "stroke-width": 1.1}, g);
  
  
  for (let yr = Math.ceil(c.x[0]); yr <= c.x[1]; yr++) {
    const X = c.sx(yr);
    mk("line", {x1: X, x2: X, y1: y1, y2: y1 - 3, stroke: "#222", "stroke-width": 0.8}, g);
    mk("line", {x1: X, x2: X, y1: y0, y2: y0 + 3, stroke: "#222", "stroke-width": 0.8}, g);
  }
  c.xTicks.forEach((v, i) => {
    const X = c.sx(v);
    mk("line", {x1: X, x2: X, y1: y1, y2: y1 - 7, stroke: "#222", "stroke-width": 1}, g);
    mk("line", {x1: X, x2: X, y1: y0, y2: y0 + 7, stroke: "#222", "stroke-width": 1}, g);
    const t = mk("text", {x: X, y: c.xLabelY, "text-anchor": "middle", "font-family": "Liberation Sans Narrow, Liberation Sans, sans-serif", "font-size": c.tickFont, fill: "#222"}, g);
    t.textContent = c.xTickLabels[i];
    
    
  });
  c.yTicks.forEach((v, i) => {
    const Y = c.sy(v);
    mk("line", {x1: x0, x2: x0 + 7, y1: Y, y2: Y, stroke: "#222", "stroke-width": 1}, g);
    mk("line", {x1: x1, x2: x1 - 7, y1: Y, y2: Y, stroke: "#222", "stroke-width": 1}, g);
    const t = mk("text", {x: x0 - 5, y: Y + c.tickFont * 0.35, "text-anchor": "end", "font-family": "Liberation Sans Narrow, Liberation Sans, sans-serif", "font-size": c.tickFont, fill: "#222"}, g);
    t.textContent = c.yTickLabels[i];
    
    
  });
  const xt = mk("text", {x: (x0 + x1) / 2, y: c.xTitleY, "text-anchor": "middle", "font-family": "Liberation Sans Narrow, Liberation Sans, sans-serif", "font-size": c.titleFont, fill: "#222"}, g);
  xt.textContent = "Time (years)";
  
  
  const cy = (y0 + y1) / 2;
  const yt = mk("text", {x: 0, y: 0, transform: `translate(${c.yTitleX},${cy}) rotate(-90)`, "text-anchor": "middle", "font-family": "Liberation Sans, sans-serif", "font-size": c.yTitleFont, fill: "#222"}, g);
  yt.textContent = YLABEL;
  
  
  if (c.note) {
    const nt = mk("text", {x: c.note[1], y: c.note[2], "text-anchor": "middle", "font-family": "Liberation Sans Narrow, Liberation Sans, sans-serif", "font-size": c.tickFont - 1, fill: "#333"}, g);
    nt.textContent = c.note[0];
    
    
  }
  const L = c.legend;
  const lg = mk("g", {}, g);
  
  
  mk("rect", {x: L.box[0], y: L.box[1], width: L.box[2] - L.box[0], height: L.box[3] - L.box[1], fill: "#fff", stroke: "#444", "stroke-width": 1}, lg);
  c.series.forEach((s, i) => {
    const ry = L.rows[i];
    const eg = mk("g", {}, lg);
    
    
    if (s.marker) markerShape(eg, s.marker, (L.sx0 + L.sx1) / 2, ry, s.color, s.size);
    else mk("line", Object.assign({x1: L.sx0, x2: L.sx1, y1: ry, y2: ry}, lineAttrs(s)), eg);
    const t = mk("text", {x: L.tx, y: ry + L.font * 0.36, "font-family": "Liberation Sans Narrow, Liberation Sans, sans-serif", "font-size": L.font, "font-weight": "bold", fill: "#222"}, eg);
    t.textContent = c.legendLabels[i];
  });
  (c.topLabels || []).forEach((lab, i) => {
    const t = mk("text", {x: c.sx(c.topLabelYears[i]), y: y0 - 6, "text-anchor": "middle", "font-family": "Liberation Sans Narrow, Liberation Sans, sans-serif", "font-size": 10, fill: "#222"}, g);
    t.textContent = lab;
    
    
  });
}

const SOLID = null, DASH = "9,5", DOT = "0.1,4.5", DASHDOT = "9,3,2,3";
const charts = [
  {name: "figure-1-chart", box: [1099, 136, 1463, 434], x: [1984, 2012.1], y: [0, 1.2], log: false,
   xTicks: fig1XTicks, xTickLabels: fig1XTickLabels, yTicks: fig1YTicks, yTickLabels: fig1YTickLabels,
   gridX: fig1XTicks, gridY: fig1GridY, bandStart: fig1BandStart, bandEnd: fig1BandEnd,
   xLabelY: 450, xTitleY: 468, yTitleX: 1071, tickFont: 11, titleFont: 13, yTitleFont: 11.5,
   note: ["2.5 GV", 1423, 152], topLabels: fig1PolarityLabels, topLabelYears: fig1PolarityYears,
   legendLabels: fig1LegendLabels,
   legend: {box: [1113, 153, 1316, 242], rows: [160, 172.5, 185, 197.5, 210, 222.5, 235], sx0: 1118, sx1: 1167, tx: 1178, font: 9.5},
   series: [
     {name: "voyager1-observations", xs: fig1ObsYears, ys: fig1V1ObsValues, marker: "circle", color: "#ee44ee", size: 2.6},
     {name: "voyager2-observations", xs: fig1ObsYears, ys: fig1V2ObsValues, marker: "diamond", color: "#2233dd", size: 2.6},
     {name: "imp8-observations", xs: fig1ImpYears, ys: fig1ImpValues, marker: "triangle", color: "#11cc11", size: 3.2},
     {name: "ulysses-observations", xs: fig1UlyssesYears, ys: fig1UlyssesValues, marker: "square", color: "#222", size: 2},
     {name: "earth-model-line", xs: fig1EarthYears, ys: fig1EarthValues, color: "#1133dd", width: 3.2, dash: SOLID},
     {name: "voyager1-model-line", xs: fig1V1ModelYears, ys: fig1V1ModelValues, color: "#ee1111", width: 3.2, dash: SOLID},
     {name: "voyager2-model-line", xs: fig1V2ModelYears, ys: fig1V2ModelValues, color: "#111", width: 3.2, dash: DASH}
   ]},
  {name: "figure-2-chart", box: [1321, 598, 1605, 831], x: [2005, 2012], y: [0.4, 1.2], log: false,
   xTicks: fig2XTicks, xTickLabels: fig2XTickLabels, yTicks: fig2YTicks, yTickLabels: fig2YTickLabels,
   xLabelY: 843, xTitleY: 859, yTitleX: 1300, tickFont: 9, titleFont: 10, yTitleFont: 9,
   note: ["2.5 GV", 1575, 611], legendLabels: fig2LegendLabels,
   legend: {box: [1332, 611, 1511, 673], rows: [617.5, 629, 640.5, 652, 663.5], sx0: 1335, sx1: 1374, tx: 1383, font: 7.5},
   series: [
     {name: "voyager2-observations", xs: fig2ObsYears, ys: fig2ObsValues, marker: "diamond", color: "#2233dd", size: 2.4},
     {name: "a-0.022-line", xs: fig2A022Years, ys: fig2A022Values, color: "#ee1111", width: 2.6, dash: SOLID},
     {name: "a-0.025-line", xs: fig2A025Years, ys: fig2A025Values, color: "#33ddee", width: 2.6, dash: "8,5"},
     {name: "a-0.030-line", xs: fig2A030Years, ys: fig2A030Values, color: "#111", width: 2.8, dash: DOT, cap: "round"},
     {name: "a-0.017-line", xs: fig2A017Years, ys: fig2A017Values, color: "#118811", width: 2.6, dash: DASHDOT}
   ]},
  {name: "figure-3-chart", box: [1813, 132, 2085, 355], x: [2004, 2016], y: [0.5, 2], log: true,
   xTicks: fig3XTicks, xTickLabels: fig3XTickLabels, yTicks: fig3YTicks, yTickLabels: fig3YTickLabels,
   gridX: fig3XTicks, gridY: fig3GridY,
   xLabelY: 367, xTitleY: 382, yTitleX: 1790, tickFont: 9, titleFont: 10, yTitleFont: 9,
   note: ["2.5 GV", 2069, 147], legendLabels: fig3LegendLabels,
   legend: {box: [1822, 139, 1987, 197], rows: [146, 155, 165, 176, 187], sx0: 1826, sx1: 1864, tx: 1872, font: 7.3},
   series: [
     {name: "voyager1-observations", xs: fig3ObsYears, ys: fig3ObsValues, marker: "circle", color: "#ee44ee", size: 2.4},
     {name: "hps-119-line", xs: fig3Hps119Years, ys: fig3Hps119Values, color: "#ee1111", width: 2.6, dash: SOLID},
     {name: "hps-123-line", xs: fig3Hps123Years, ys: fig3Hps123Values, color: "#1122dd", width: 2.6, dash: DASH},
     {name: "hps-125-line", xs: fig3Hps125Years, ys: fig3Hps125Values, color: "#888800", width: 2.6, dash: DASHDOT},
     {name: "hps-130-line", xs: fig3Hps130Years, ys: fig3Hps130Values, color: "#111", width: 2.8, dash: DOT, cap: "round"}
   ]},
  {name: "figure-5-chart", box: [2168, 132, 2441, 355], x: [2005, 2015], y: [0.5, 2], log: true,
   xTicks: fig5XTicks, xTickLabels: fig5XTickLabels, yTicks: fig3YTicks, yTickLabels: fig3YTickLabels,
   gridX: [2010], gridY: fig3GridY,
   xLabelY: 367, xTitleY: 382, yTitleX: 2145, tickFont: 9, titleFont: 10, yTitleFont: 9,
   note: ["2.5 GV", 2424, 147], legendLabels: fig5LegendLabels,
   legend: {box: [2178, 139, 2342, 186], rows: [146, 155, 165, 176], sx0: 2181, sx1: 2219, tx: 2227, font: 7.3},
   series: [
     {name: "voyager2-observations", xs: fig5ObsYears, ys: fig5ObsValues, marker: "circle", color: "#ee44ee", size: 2.4},
     {name: "hps-100-line", xs: fig5Hps100Years, ys: fig5Hps100Values, color: "#ee1111", width: 2.6, dash: SOLID},
     {name: "hps-103-line", xs: fig5Hps103Years, ys: fig5Hps103Values, color: "#1122dd", width: 2.6, dash: DASH},
     {name: "hps-105-line", xs: fig5Hps105Years, ys: fig5Hps105Values, color: "#111", width: 2.8, dash: DOT, cap: "round"}
   ]},
  {name: "figure-4-chart", box: [1813, 502, 2085, 725], x: [2004, 2015], y: [1, 48], log: true,
   xTicks: fig4XTicks, xTickLabels: fig4XTickLabels, yTicks: fig4YTicks, yTickLabels: fig4YTickLabels,
   gridX: [2005, 2010], gridY: fig4GridY,
   xLabelY: 736, xTitleY: 751, yTitleX: 1790, tickFont: 9, titleFont: 10, yTitleFont: 9,
   note: ["200 MeV", 2065, 515], legendLabels: fig4LegendLabels,
   legend: {box: [1822, 508, 1987, 556], rows: [516, 524.5, 535, 546], sx0: 1826, sx1: 1864, tx: 1872, font: 7.3},
   series: [
     {name: "voyager1-observations", xs: fig4ObsYears, ys: fig4ObsValues, marker: "circle", color: "#ee44ee", size: 2.4},
     {name: "hps-119-line", xs: fig4Hps119Years, ys: fig4Hps119Values, color: "#ee1111", width: 2.6, dash: SOLID},
     {name: "hps-121-line", xs: fig4Hps121Years, ys: fig4Hps121Values, color: "#1122dd", width: 2.6, dash: DASH},
     {name: "hps-123-line", xs: fig4Hps123Years, ys: fig4Hps123Values, color: "#111", width: 2.8, dash: DOT, cap: "round"}
   ]}
];
charts.forEach(drawChart);
</script>
</body></html>
